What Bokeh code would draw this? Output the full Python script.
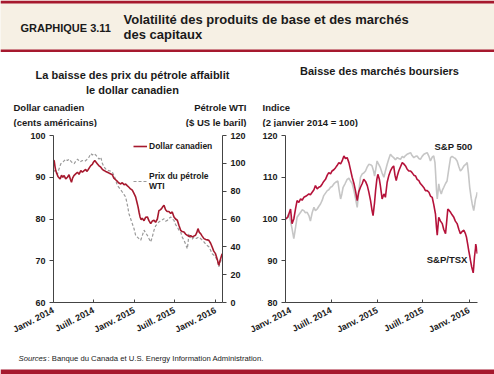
from bokeh.plotting import figure
from bokeh.layouts import column, row
from bokeh.models import Label, Range1d, LinearAxis, FixedTicker, Legend, LegendItem
from bokeh.embed import file_html
from bokeh.resources import INLINE

# ---------------- data (days since 1 Jan 2014) ----------------
cad_day = [0,3,7,10,14,20,26,30,36,42,48,55,63,70,76,81,86,92,100,108,
           115,123,130,138,145,150,156,162,168,175,180,186,192,198,204,213,220,228,235,243,
           250,258,265,272,280,288,295,303,310,318,325,332,340,347,355,362,370,376,381,386,
           390,395,400,408,415,423,430,438,445,453,460,468,475,481,487,493,498,505,512,520,
           528,535,543,550,558,565,573,580,588,595,603,612,618,625,632,640,646,651,657,663,
           670,678,686,693,700,708,715,722,730,737,742,745,749,753,757,760]
cad_val = [94.0,94.0,92.5,91.6,91.0,90.2,89.8,89.6,90.5,90.0,90.4,89.6,90.0,90.6,89.5,88.8,89.8,90.4,90.8,91.2,
           90.7,91.6,91.2,91.6,91.9,91.4,91.8,92.3,92.8,93.1,93.6,94.0,93.6,93.2,92.8,92.4,91.9,91.6,91.4,91.2,
           91.0,90.8,90.6,89.8,89.4,89.0,88.6,88.4,88.7,88.2,88.4,88.0,87.6,87.2,86.9,86.2,85.3,84.0,82.9,81.5,
           80.5,79.8,80.2,79.6,80.4,80.5,79.6,78.9,79.5,79.7,79.2,80.0,82.0,82.2,82.5,83.0,83.3,82.2,81.8,81.8,
           81.3,81.7,80.5,80.0,79.7,78.5,77.3,77.0,76.9,76.4,76.1,75.8,76.0,75.7,75.9,76.1,76.8,77.7,76.8,76.5,
           75.9,75.3,75.1,75.0,74.9,74.2,73.3,72.3,71.7,70.5,69.5,68.9,69.8,70.5,71.2,71.7]

wti_day = [0,3,10,18,25,33,43,55,63,70,81,93,100,108,120,130,141,153,160,168,
           175,183,190,198,205,213,220,228,235,243,255,265,276,288,298,310,318,325,333,340,
           348,355,363,370,378,385,393,400,408,415,423,430,438,445,453,460,468,475,486,498,
           505,513,520,528,535,543,550,558,565,573,580,588,595,603,607,610,618,625,633,643,
           655,666,678,688,700,708,715,723,730,738,745,750,756,760]
wti_val = [94,95,93,92.5,96,99.7,101,103,102,103,101,99.7,101.5,103,101,102,101.5,103,104.5,107,
           106,107,106,104.5,103,104.5,100,97.3,96,95,94.5,93.7,90,84,82,79.4,77.5,75.8,70,63.8,
           60,56.7,53,48.3,47,45.9,44.7,48,52,50,48.3,46,43.5,47,52,55,56.5,57.9,59,60.2,
           58.5,59,60.5,61.4,60,59,56,54.3,52,50.7,47,44.7,42,38.7,44,49.5,46,45.5,47,46,
           47,45.5,43.5,41.5,40,37.5,35,34,32.7,30,25.6,28,31,30.4]

tsx_day = [0,9,15,20,26,33,40,46,53,60,66,73,82,93,99,106,113,119,126,132,
           139,146,152,159,166,172,179,185,192,199,205,212,219,225,232,238,245,252,258,265,
           272,278,285,291,298,305,311,318,325,331,338,344,348,354,358,363,367,373,377,384,
           391,397,404,411,417,424,430,435,440,445,450,457,464,470,477,483,490,497,503,510,
           517,523,530,536,543,550,556,563,570,576,583,589,596,600,603,607,609,616,623,629,
           636,640,645,651,656,662,669,675,682,689,695,702,709,715,719,724,728,732,735,740,
           746,748,751,755,756,759,762]
tsx_val = [100,100.4,101.5,102.4,98.9,100,102.5,104.4,104,104.8,104.5,105.2,105.5,106,105.8,106.4,107,108,107.2,107.6,
           107.8,108.4,109,109.5,110.5,111.1,110.8,111.5,111.8,112.3,112.8,113.5,113.2,113.9,115.1,114.5,114.7,113.5,111.9,110,
           108.5,106.8,104.4,106.5,107.6,108.5,109.5,109,108,106.5,104.4,102,100.8,104,106.8,109.5,110.7,109.5,108,104.8,
           106,105.2,108.8,110.5,111.5,112.3,112.7,110.5,109.2,110.5,111.5,112.5,113.5,113.2,112.7,112,111.5,111.5,111.1,110.5,
           110.3,109.5,109.2,108.5,108,107.5,106.8,106.8,106.4,105.5,105.2,103.5,101.2,98,96.1,99,100.4,99.5,98.9,97.5,
           96.5,99,102.4,102,101.6,101,100.4,99.5,98.9,97.5,96.5,97,97.3,96.5,95.7,94,92.5,91.2,90.1,88.5,
           87.1,88.5,90.9,93,94,93,91.7]

spx_day = [0,7,13,20,26,33,40,46,53,60,66,73,79,86,93,99,106,113,119,126,
           132,139,146,152,159,166,172,179,185,192,199,208,213,219,224,229,237,245,252,258,
           265,272,278,285,291,298,305,311,318,325,331,338,344,350,354,359,364,371,377,384,
           391,397,404,411,417,424,430,437,444,450,457,464,470,477,483,490,497,503,510,517,
           523,530,536,543,550,556,563,570,576,583,589,594,596,600,603,607,609,613,619,624,
           629,636,642,649,656,662,669,675,682,689,695,702,709,715,722,727,732,738,742,748,
           752,755,759,762]
spx_val = [100,100.5,101.2,99.5,97.7,95.3,98,100.4,101,101.6,102.2,102,101.5,101.6,100.8,99.5,101.5,102.8,102,102.4,
           103,103.6,104.5,105.6,106.2,106.8,107,107.6,107.8,108.4,108.8,109.1,107,104.8,106,107.6,108.5,109.5,109.8,109.1,
           108.5,106.8,105,102.8,106.5,110,110.8,111,111.5,112.5,113.1,113,112.7,111.5,110.3,112,113.9,113,112.3,111,
           110,111.5,113.1,114.5,115.5,115,114.7,114.2,114.7,114.5,114.3,115,114.7,115.2,115.5,115.7,115.9,115.2,114.7,115,
           115.1,114.5,114.3,115,115.5,115.7,115.9,115,113.9,114.8,115.1,113.5,111.5,107,104.8,107,108.4,107,106,107,
           107.6,108.5,109.1,112,114.7,115,114.7,114.5,113.9,112.5,111.5,112,112.7,113,113.5,111,107.6,105,103.6,102,
           103.5,104.8,105.5,106.4]

tick_days = [0, 181, 365, 546, 730]
tick_labels = ["Janv. 2014", "Juill. 2014", "Janv. 2015", "Juill. 2015", "Janv. 2016"]

# ---------------- style ----------------
FONT = "'Liberation Sans', Arial, sans-serif"
RED = "#a6192e"
TSX_RED = "#b5123a"
BEIGE = "#f6f0e4"
TXT = "#1a1a1a"
W = 494

def lab(fig, x, y, text, size="11px", bold=True, align="left", italic=False, units="canvas", color=TXT):
    style = "bold" if bold else ("italic" if italic else "normal")
    fig.add_layout(Label(x=x, y=y, x_units=units, y_units=units, text=text,
                         text_font=FONT, text_font_size=size, text_font_style=style,
                         text_align=align, text_baseline="middle", text_color=color))

def blank(width, height, bg="white"):
    f = figure(width=width, height=height, x_range=Range1d(0, width), y_range=Range1d(height, 0),
               output_backend="svg", toolbar_location=None, min_border=0,
               x_axis_location=None, y_axis_location=None)
    f.grid.visible = False
    f.outline_line_color = None
    f.background_fill_color = bg
    f.border_fill_color = bg
    return f

def style_axis(ax, xaxis=False):
    ax.major_label_text_font = FONT
    ax.major_label_text_font_size = "9px"
    ax.major_label_text_font_style = "bold"
    ax.major_label_text_color = TXT
    ax.axis_line_color = "#444444"
    ax.major_tick_line_color = "#444444"
    ax.minor_tick_line_color = None
    if xaxis:
        ax.major_tick_in = 3
        ax.major_tick_out = 0
        ax.major_label_standoff = 7
    else:
        ax.major_tick_in = 0
        ax.major_tick_out = 4
        ax.major_label_standoff = 4

# ---------------- header ----------------
hdr = blank(W, 52, BEIGE)
hdr.quad(left=[0, 0], right=[W, W], top=[0, 49], bottom=[3, 52], color=RED, line_color=None)
lab(hdr, 20, 27, "GRAPHIQUE 3.11", size="11px")
lab(hdr, 123, 19, "Volatilité des produits de base et des marchés", size="13px")
lab(hdr, 123, 34, "des capitaux", size="13px")

# ---------------- text band above the charts ----------------
band = blank(W, 75)
lab(band, 132, 22, "La baisse des prix du pétrole affaiblit", size="11px", align="center")
lab(band, 132, 37, "le dollar canadien", size="11px", align="center")
lab(band, 13, 55, "Dollar canadien", size="9.5px")
lab(band, 13, 70, "(cents américains)", size="9.5px")
lab(band, 246, 55, "Pétrole WTI", size="9.5px", align="right")
lab(band, 246, 70, "($ US le baril)", size="9.5px", align="right")
lab(band, 379, 18, "Baisse des marchés boursiers", size="11px", align="center")
lab(band, 262, 55, "Indice", size="9.5px")
lab(band, 262, 70, "(2 janvier 2014 = 100)", size="9.5px")

# ---------------- left chart ----------------
left = figure(width=248, height=218, x_range=Range1d(0, 761.5), y_range=Range1d(60, 100),
              output_backend="svg", toolbar_location=None,
              min_border_left=53, min_border_right=26, min_border_top=8, min_border_bottom=43)
left.extra_y_ranges = {"wti": Range1d(0, 120)}
left.add_layout(LinearAxis(y_range_name="wti"), "right")
left.grid.visible = False
left.outline_line_color = None
left.xaxis.ticker = FixedTicker(ticks=tick_days)
left.xaxis.major_label_overrides = dict(zip(tick_days, tick_labels))
left.xaxis.major_label_orientation = 0.48
left.yaxis[0].ticker = FixedTicker(ticks=[60, 70, 80, 90, 100])
left.yaxis[1].ticker = FixedTicker(ticks=[0, 20, 40, 60, 80, 100, 120])
for ax in left.yaxis:
    style_axis(ax)
style_axis(left.xaxis[0], xaxis=True)

r_wti = left.line(wti_day, wti_val, y_range_name="wti", color="#9a9a9a", line_width=1.2, line_dash="3 2")
r_cad = left.line(cad_day, cad_val, color=RED, line_width=1.6)

leg = Legend(items=[LegendItem(label="Dollar canadien", renderers=[r_cad]),
                    LegendItem(label="Prix du pétrole\nWTI", renderers=[r_wti])],
             location=(80, 111), padding=0, margin=0, spacing=19,
             border_line_color=None, background_fill_alpha=0,
             label_text_font=FONT, label_text_font_size="8.5px", label_text_font_style="bold",
             label_text_color=TXT, glyph_width=14, glyph_height=12, label_height=12, label_standoff=2)
left.add_layout(leg)

# ---------------- right chart ----------------
right = figure(width=246, height=218, x_range=Range1d(0, 763), y_range=Range1d(80, 120),
               output_backend="svg", toolbar_location=None,
               min_border_left=37, min_border_right=17, min_border_top=8, min_border_bottom=43)
right.grid.visible = False
right.outline_line_color = None
right.xaxis.ticker = FixedTicker(ticks=tick_days)
right.xaxis.major_label_overrides = dict(zip(tick_days, tick_labels))
right.xaxis.major_label_orientation = 0.48
right.yaxis.ticker = FixedTicker(ticks=[80, 90, 100, 110, 120])
style_axis(right.yaxis[0])
style_axis(right.xaxis[0], xaxis=True)

right.line(spx_day, spx_val, color="#c6c6c6", line_width=1.6)
right.line(tsx_day, tsx_val, color=TSX_RED, line_width=1.6)

lab(right, 743, 117.4, "S&P 500", size="9.5px", align="right", units="data")
lab(right, 723, 90.2, "S&P/TSX", size="9.5px", align="right", units="data")

# ---------------- footer ----------------
ftr = blank(W, 29)
ftr.quad(left=[0], right=[W], top=[24], bottom=[29], color=RED, line_color=None)
lab(ftr, 18, 13, "Sources", size="7.7px", bold=False, italic=True)
lab(ftr, 47, 13, ": Banque du Canada et U.S. Energy Information Administration.", size="7.7px", bold=False)

p = column(hdr, band, row(left, right), ftr)
open("out.html", "w").write(file_html(p, INLINE))
